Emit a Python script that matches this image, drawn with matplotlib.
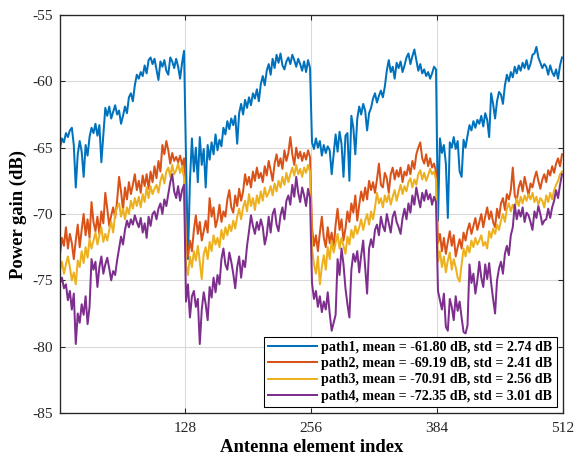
import numpy as np
import matplotlib
matplotlib.use('Agg')
import matplotlib.pyplot as plt

# antenna element index (every 2nd element, 1..511)
elem = np.arange(1, 513, 2)

# path1 power gain (dB), four 128-element panels
path1 = [
    # panel 1
    -65.0, -64.3, -64.6, -63.9, -64.2, -63.7, -63.5, -64.8, -68.0, -65.5,
    -64.5, -65.3, -67.2, -64.8, -65.6, -64.2, -63.5, -63.9, -63.2, -64.1,
    -63.3, -66.1, -64.0, -62.0, -62.6, -61.9, -62.8, -62.3, -61.8, -62.5,
    -62.2, -63.2, -62.6, -61.9, -62.4, -61.2, -60.9, -61.5, -60.3, -59.5,
    -59.8, -59.3, -59.6, -58.8, -59.4, -58.4, -58.2, -58.7, -58.3, -59.1,
    -59.9, -58.5, -58.9, -58.4, -59.2, -59.5, -58.2, -58.5, -59.0, -58.3,
    -58.9, -59.8, -58.6, -57.7,
    # panel 2
    -65.8, -73.4, -67.5, -64.3, -66.8, -65.0, -67.6, -64.2, -66.3, -65.1,
    -68.0, -64.8, -65.9, -64.6, -65.5, -64.0, -65.2, -64.4, -64.9, -63.5,
    -64.0, -63.0, -63.6, -62.8, -63.3, -62.6, -64.7, -62.4, -61.7, -62.5,
    -61.4, -62.0, -61.2, -61.8, -60.9, -61.3, -60.6, -61.5, -60.2, -59.6,
    -60.3, -59.2, -58.7, -59.5, -58.3, -59.0, -58.0, -58.6, -57.9, -58.8,
    -59.1, -58.5, -58.2, -58.7, -58.0, -58.4, -58.9, -58.3, -58.7, -59.2,
    -58.5, -59.3, -58.4, -59.0,
    # panel 3
    -64.6, -65.1, -64.3, -65.0, -64.5, -65.6, -64.8, -65.4, -64.9, -65.2,
    -67.0, -65.5, -64.0, -65.3, -63.8, -64.7, -67.2, -64.1, -63.9, -67.5,
    -62.6, -63.5, -65.5, -62.8, -61.9, -62.5, -61.7, -62.2, -63.7, -62.4,
    -62.0, -61.3, -60.9, -61.6, -61.1, -60.7, -61.2, -60.4, -59.2, -58.4,
    -59.3, -58.9, -59.8, -58.6, -59.0, -58.5, -59.3, -58.8, -58.2, -57.9,
    -58.7, -58.1, -57.6, -58.4, -59.2, -58.7, -59.4, -59.1, -59.6, -59.3,
    -59.8, -59.4, -58.9, -59.1,
    # panel 4
    -70.5, -64.3, -65.4, -64.8, -66.2, -70.3, -64.6, -65.0, -64.2, -65.1,
    -64.5, -66.8, -67.2, -64.4, -65.0, -64.1, -63.3, -63.7, -63.0, -63.5,
    -62.9, -63.2, -62.6, -63.4, -62.4, -62.9, -64.2, -60.9, -61.7, -62.8,
    -61.5, -60.8, -61.0, -61.7, -60.3, -59.5, -60.0, -59.3, -59.7, -58.9,
    -59.4, -58.8, -59.2, -58.6, -59.0, -58.4, -59.1, -58.7, -58.0, -57.9,
    -57.4, -58.2, -58.6, -59.0, -58.7, -58.9, -59.5, -58.8, -59.3, -59.6,
    -59.1, -59.8, -58.8, -58.2,
]

path2 = [
    -73.0, -71.8, -72.4, -71.0, -72.6, -71.5, -72.2, -73.4, -72.0, -70.8,
    -72.5, -71.2, -70.0, -71.6, -70.4, -71.8, -69.1, -70.6, -71.3, -70.2,
    -71.5, -69.8, -70.7, -68.4, -69.6, -70.9, -70.1, -69.5, -70.3, -69.0,
    -67.2, -68.3, -69.7, -68.0, -68.9, -67.6, -68.5, -67.8, -67.0, -68.2,
    -67.5, -68.4, -67.1, -67.9, -67.0, -68.1, -66.8, -67.6, -66.4, -67.3,
    -66.0, -66.8, -64.8, -65.5, -64.5, -65.2, -66.2, -65.4, -66.0, -65.7,
    -66.1, -65.6, -66.3, -65.8,
    -72.6, -73.2, -72.0, -72.8, -71.2, -70.1, -71.5, -70.6, -72.0, -71.3,
    -70.5, -71.4, -68.8, -70.2, -69.5, -71.0, -70.4, -69.3, -70.6, -69.8,
    -70.2, -68.9, -68.2, -69.5, -69.9, -68.6, -69.4, -68.1, -69.0, -68.3,
    -67.0, -67.8, -67.2, -68.0, -66.8, -67.5, -66.5, -67.3, -66.9, -67.6,
    -66.4, -67.1, -66.0, -66.7, -67.5, -66.2, -65.5, -66.4, -65.8, -66.6,
    -65.2, -66.0, -65.4, -64.2, -65.5, -66.3, -65.0, -65.8, -65.3, -66.0,
    -65.4, -65.9, -65.2, -65.7,
    -71.0, -72.4, -71.6, -72.8, -71.4, -70.2, -71.8, -72.5, -71.0, -72.2,
    -71.4, -72.6, -70.8, -69.6, -71.2, -70.4, -72.0, -71.1, -69.8, -70.6,
    -69.2, -69.9, -68.6, -70.5, -69.3, -68.3, -69.0, -68.0, -68.9, -67.5,
    -68.2, -67.6, -68.4, -67.4, -66.2, -67.8, -68.0, -66.9, -67.3, -68.4,
    -67.0, -66.5, -67.4, -66.7, -67.2, -66.5, -67.6, -66.8, -67.1, -66.3,
    -67.0, -66.0, -66.6, -65.5, -65.0, -64.6, -65.8, -66.2, -65.5, -66.4,
    -65.8, -66.5, -66.2, -66.8,
    -72.2, -71.5, -72.8, -71.8, -73.0, -72.1, -71.3, -72.4, -71.6, -73.2,
    -72.5, -71.9, -72.6, -71.4, -72.0, -71.2, -70.7, -71.5, -70.9, -70.3,
    -71.2, -70.6, -70.0, -71.0, -70.2, -69.5, -70.4, -69.8, -70.6, -71.0,
    -69.6, -70.3, -69.2, -68.8, -69.7, -68.5, -68.9, -68.2, -66.5, -68.6,
    -69.0, -68.0, -67.5, -68.3, -67.2, -67.9, -68.6, -67.7, -68.0, -67.3,
    -66.8, -67.5, -68.1, -67.4, -67.0, -67.6, -66.7, -67.1, -66.4, -66.9,
    -66.2, -65.8, -66.4, -65.5,
]

path3 = [
    -74.2, -73.6, -74.5, -73.8, -73.2, -74.0, -75.0, -74.4, -75.3, -73.5,
    -74.0, -72.8, -73.7, -72.5, -73.3, -71.9, -72.6, -72.0, -71.4, -72.3,
    -71.6, -71.0, -72.1, -71.5, -72.0, -71.2, -70.6, -71.4, -70.0, -69.5,
    -69.2, -70.2, -69.6, -70.4, -69.5, -70.0, -69.0, -69.6, -68.8, -69.4,
    -68.7, -69.5, -68.5, -69.1, -68.0, -68.8, -67.9, -68.5, -68.1, -67.8,
    -68.4, -67.5, -67.0, -67.7, -66.8, -66.5, -67.2, -66.3, -67.0, -66.7,
    -66.2, -66.9, -66.4, -67.3,
    -73.8, -74.6, -73.2, -74.0, -72.8, -73.5, -72.4, -73.6, -74.9, -73.0,
    -72.5, -73.4, -72.1, -72.8, -71.6, -72.3, -71.8, -72.5, -71.2, -71.9,
    -71.0, -71.6, -70.8, -71.3, -70.5, -71.1, -70.2, -69.6, -70.4, -69.5,
    -69.0, -69.8, -68.5, -69.4, -68.8, -69.7, -68.6, -69.2, -68.3, -69.0,
    -68.0, -68.7, -68.4, -67.9, -68.6, -67.7, -68.3, -67.5, -68.0, -67.2,
    -67.8, -66.9, -67.6, -67.0, -66.5, -67.1, -66.3, -67.0, -66.6, -67.2,
    -66.5, -66.9, -66.3, -66.8,
    -72.6, -73.8, -74.5, -73.2, -75.3, -74.0, -73.1, -74.2, -72.5, -73.4,
    -72.0, -72.9, -72.2, -71.5, -72.6, -71.8, -72.4, -73.0, -71.7, -72.3,
    -71.2, -71.8, -70.9, -71.5, -71.0, -70.4, -71.2, -70.5, -70.0, -70.8,
    -69.8, -70.4, -69.5, -68.4, -69.2, -68.8, -69.5, -68.6, -69.1, -68.5,
    -69.3, -68.7, -68.2, -69.0, -68.4, -67.8, -68.5, -67.9, -68.3, -67.6,
    -67.3, -68.0, -67.4, -67.8, -67.0, -66.7, -67.4, -66.9, -67.5, -67.1,
    -66.6, -67.0, -66.8, -67.4,
    -73.6, -72.8, -74.0, -73.2, -74.4, -73.5, -72.9, -74.2, -73.4, -74.0,
    -74.8, -75.1, -73.8, -72.6, -73.2, -72.4, -72.9, -72.0, -72.5, -71.8,
    -72.3, -72.0, -71.6, -72.4, -72.1, -72.6, -71.3, -71.8, -71.1, -71.5,
    -70.8, -71.2, -70.5, -70.0, -70.6, -69.6, -69.2, -69.8, -69.3, -69.6,
    -68.8, -69.4, -68.7, -69.2, -68.6, -69.0, -68.5, -68.9, -68.4, -69.1,
    -68.7, -69.3, -68.8, -69.0, -69.5, -68.6, -69.1, -68.4, -68.9, -68.2,
    -67.8, -67.5, -67.0, -66.8,
]

path4 = [
    -75.2, -74.8, -75.6, -75.3, -76.5, -75.8, -77.2, -76.0, -79.8, -77.5,
    -78.2, -76.8, -77.6, -76.2, -78.3, -77.0, -73.4, -74.2, -73.6, -75.5,
    -74.0, -73.2, -74.5, -73.8, -73.3, -74.1, -75.0, -74.3, -74.6, -73.5,
    -72.6, -71.7, -72.3, -71.2, -70.5, -71.0, -70.4, -70.8, -70.1, -70.6,
    -71.0, -70.3, -71.4, -70.7, -71.8, -70.2, -70.9, -70.0, -69.8, -70.4,
    -69.6, -69.2, -70.0, -68.9, -69.4, -68.5, -67.6, -67.0, -68.3, -68.8,
    -67.9, -69.0, -68.2, -67.8,
    -76.6, -75.3, -77.8, -76.2, -75.8, -77.0, -76.4, -79.8, -77.2, -75.9,
    -76.8, -78.0, -75.5, -76.3, -74.8, -75.9, -74.6, -75.3, -73.4, -72.6,
    -73.8, -74.2, -72.9, -73.6, -74.5, -75.6, -74.0, -73.2, -74.8, -73.5,
    -74.0, -72.4, -71.3, -70.1, -70.9, -71.5, -70.6, -71.2, -70.4, -71.0,
    -72.3, -71.6, -70.2, -71.4, -70.0, -69.6, -70.8, -71.3, -70.1, -69.5,
    -70.4, -69.0, -68.6, -69.3, -67.8, -68.7, -67.2, -68.4, -69.1, -68.0,
    -68.6, -69.4, -68.1, -68.8,
    -75.2, -76.4, -75.8, -77.0, -76.2, -77.4, -76.6, -77.2, -75.9, -77.5,
    -78.8, -78.2, -77.6, -73.4, -74.6, -72.6, -73.8, -75.6, -76.8, -77.8,
    -74.2, -73.0, -73.6, -72.8, -74.4, -73.1, -72.0, -74.0, -76.0, -72.6,
    -71.9, -72.5, -71.2, -70.8, -71.6, -70.2, -70.9, -71.3, -70.0, -70.7,
    -71.4, -70.2, -69.8, -70.6, -71.0, -71.5, -70.3, -69.6, -70.4, -69.2,
    -69.9, -68.6, -69.3, -68.0, -68.8, -69.5, -68.4, -69.0, -68.2, -68.9,
    -68.5, -69.3, -68.7, -69.1,
    -75.8, -76.5, -77.2, -76.0, -78.5, -78.8, -76.4, -77.0, -78.0, -76.2,
    -77.3, -76.6, -77.8, -78.9, -79.0, -78.4, -73.8, -75.2, -74.5, -76.0,
    -75.0, -73.6, -74.8, -75.5, -73.8, -74.9, -73.7, -75.2, -76.4, -77.5,
    -75.0, -74.1, -73.6, -74.5, -73.0, -72.4, -73.1, -71.6, -71.0, -69.3,
    -70.4, -69.7, -70.2, -69.5, -70.6, -69.9, -70.1, -70.6, -71.2, -69.8,
    -70.3, -69.4, -70.0, -70.8, -70.5, -70.4, -69.6, -70.3, -69.5, -69.0,
    -68.2, -68.8, -67.8, -67.0,
]

labels = [
    'path1, mean = -61.80 dB, std = 2.74 dB',
    'path2, mean = -69.19 dB, std = 2.41 dB',
    'path3, mean = -70.91 dB, std = 2.56 dB',
    'path4, mean = -72.35 dB, std = 3.01 dB',
]
colors = ['#0072BD', '#D95319', '#EDB120', '#7E2F8E']

plt.rcParams['font.family'] = ['Liberation Serif', 'DejaVu Serif']
plt.rcParams['axes.unicode_minus'] = False

fig = plt.figure(figsize=(6, 4.78125), dpi=96)
ax = fig.add_axes([0.1042, 0.1002, 0.8732, 0.8671])

for y, c, lab in zip([path1, path2, path3, path4], colors, labels):
    ax.plot(elem, y, color=c, linewidth=1.5, label=lab)

ax.set_xlim(1, 512)
ax.set_ylim(-85, -55)
ax.set_xticks([128, 256, 384, 512])
ax.set_yticks(np.arange(-85, -54, 5))
ax.grid(True, color='#d9d9d9', linewidth=0.8)
ax.set_axisbelow(True)
ax.tick_params(direction='in', top=True, right=True, labelsize=11.5,
               colors='#262626', length=4)
ax.tick_params(axis='x', pad=7)
ax.tick_params(axis='y', pad=5)
for s in ax.spines.values():
    s.set_color('#262626')
    s.set_linewidth(1.0)

ax.set_xlabel('Antenna element index', fontsize=14, fontweight='bold',
              labelpad=3)
ax.set_ylabel('Power gain (dB)', fontsize=14, fontweight='bold',
              labelpad=4)

leg = ax.legend(loc='lower right', prop={'weight': 'bold', 'size': 10.5},
                fancybox=False, framealpha=1, edgecolor='black',
                handlelength=3.5, handletextpad=0.3, borderpad=0.3,
                labelspacing=0.22, borderaxespad=0.45)
leg.get_frame().set_linewidth(0.8)

fig.savefig('out.png', dpi=96)
